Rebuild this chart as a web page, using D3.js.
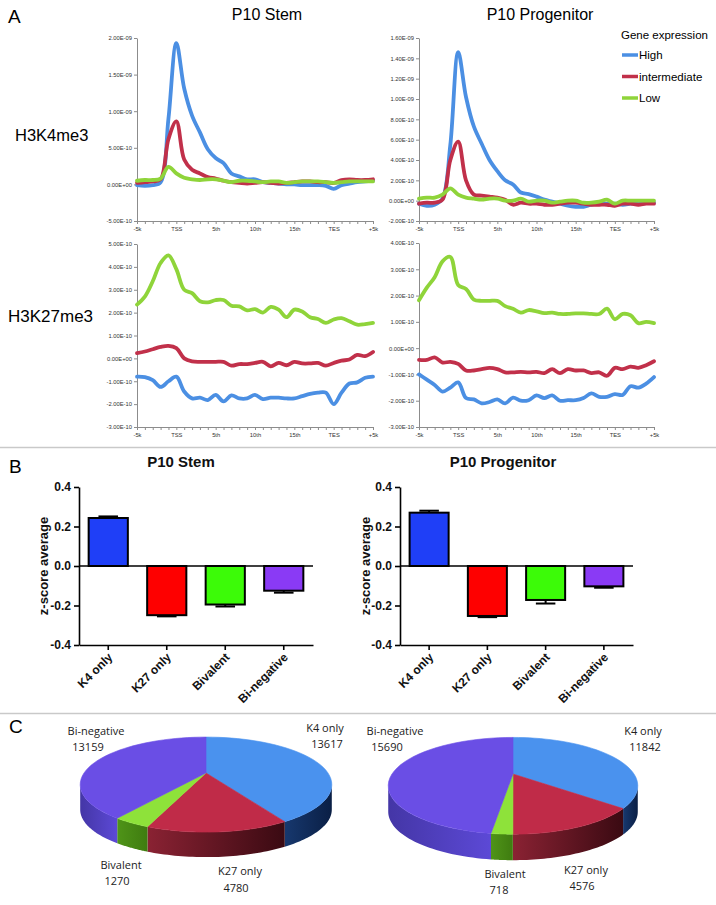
<!DOCTYPE html>
<html lang="en">
<head>
<meta charset="UTF-8">
<title>Histone marks and expression</title>
<script src="https://d3js.org/d3.v7.min.js"></script>
<style>
  body { margin: 0; background: #fff; }
  svg { display: block; font-family: "Liberation Sans", Arial, sans-serif; }
  .axA path, .axA line { stroke: #8c8c8c; stroke-width: 1; }
  .axA text { font-size: 5.8px; fill: #333; font-family: "Liberation Sans", Arial, sans-serif; }
  .axB path, .axB line { stroke: #000; stroke-width: 1.6; }
  .axB text { font-size: 12px; font-weight: bold; fill: #111; font-family: "Liberation Sans", Arial, sans-serif; }
  .pielab { font-family: "Open Sans", sans-serif; font-size: 11px; fill: #222; text-anchor: middle; }
</style>
</head>
<body>
<svg id="fig" width="716" height="905"></svg>
<script>
// ---- panel A data (values in units of 1e-10) ----
const bins = ["-5k","-4k","-3k","-2k","-1k","TSS","1st","2nd","3rd","4th","5th","6th","7th","8th","9th",
  "10th","11th","12th","13th","14th","15th","16th","17th","18th","19th","TES","+1k","+2k","+3k","+4k","+5k"];
const binTicks = ["-5k","TSS","5th","10th","15th","TES","+5k"];
const exprLevels = ["High","intermediate","Low"];
const exprColors = ["#4b8fe3","#c1304a","#8fd43a"];

const stemK4High = [-0.1,-0.2,-0.1,0.3,9,19.3,13.1,9.4,7.1,4.8,3.6,2.9,1.5,1.1,0.7,0.7,0.3,0.2,0.1,0,0,-0.1,-0.1,-0.1,-0.2,-0.6,-0.1,0.1,0.3,0.4,0.5];
const stemK4Mid  = [0.2,0.3,0.4,0.7,6.2,8.6,3.4,2.0,1.5,1.0,0.8,0.5,0.3,0.2,0.1,0.2,0.3,0.2,0.1,0.2,0.3,0.4,0.4,0.3,0.3,0.2,0.6,0.7,0.6,0.6,0.7];
const stemK4Low  = [0.5,0.6,0.6,0.8,2.4,1.5,0.9,0.7,0.6,0.7,0.7,0.5,0.3,0.5,0.5,0.4,0.3,0.4,0.4,0.2,0.3,0.4,0.4,0.4,0.3,0.2,0.3,0.4,0.4,0.4,0.4];

const progK4High = [-0.3,-0.5,-0.4,0.2,5.5,14.6,10.2,7.3,5.6,4.0,2.9,2.0,1.6,0.8,0.65,0.4,0.1,-0.1,-0.3,-0.5,-0.6,-0.6,-0.4,-0.3,-0.3,-0.3,-0.4,-0.3,-0.2,-0.2,-0.2];
const progK4Mid  = [-0.3,-0.2,-0.2,0.1,4.0,5.8,2.0,0.6,0.5,0.4,0.3,0.1,-0.4,-0.2,-0.3,-0.3,-0.4,-0.4,-0.3,-0.2,-0.2,-0.3,-0.4,-0.4,-0.4,-0.5,-0.3,-0.3,-0.4,-0.3,-0.3];
const progK4Low  = [0.2,0.3,0.3,0.6,1.2,0.6,0.3,0.2,0.1,0.2,0.2,0.0,0.0,0.2,-0.1,0.0,0.0,-0.2,-0.1,0.0,0.0,-0.2,-0.2,-0.1,0.1,-0.3,0.0,0.0,0.0,0.0,0.0];

const stemK27High = [-0.8,-0.82,-0.95,-1.25,-1.0,-0.8,-1.45,-1.75,-1.72,-1.82,-1.6,-1.88,-1.62,-1.75,-1.75,-1.6,-1.78,-1.72,-1.72,-1.75,-1.75,-1.65,-1.55,-1.5,-1.5,-2.0,-1.5,-1.1,-1.05,-0.85,-0.8];
const stemK27Mid  = [0.23,0.3,0.4,0.5,0.55,0.45,0.0,-0.13,-0.15,-0.15,-0.15,-0.15,-0.32,-0.25,-0.25,-0.2,-0.15,-0.35,-0.2,-0.3,-0.15,-0.22,-0.22,-0.2,-0.32,-0.2,-0.1,-0.05,0.15,0.1,0.28];
const stemK27Low  = [2.35,2.7,3.37,4.17,4.5,3.9,3.0,2.85,2.5,2.45,2.55,2.55,2.3,2.27,2.1,2.15,2.0,2.25,2.13,1.8,2.13,2.05,1.8,1.72,1.55,1.7,1.76,1.62,1.47,1.5,1.55];

const progK27High = [-1.0,-1.2,-1.4,-1.65,-1.5,-1.3,-1.9,-1.95,-2.1,-2.05,-1.95,-2.1,-1.88,-2.0,-1.98,-1.8,-1.9,-1.8,-2.0,-1.98,-1.98,-1.9,-1.72,-1.85,-1.85,-1.75,-1.78,-1.45,-1.5,-1.35,-1.1];
const progK27Mid  = [-0.45,-0.45,-0.35,-0.55,-0.52,-0.6,-0.85,-0.85,-0.8,-0.75,-0.8,-0.92,-0.92,-0.9,-0.92,-0.9,-0.95,-0.8,-0.95,-0.8,-0.85,-0.85,-0.95,-0.92,-1.05,-0.75,-0.8,-0.7,-0.75,-0.65,-0.5];
const progK27Low  = [1.82,2.3,2.7,3.3,3.47,2.4,2.25,1.85,1.8,1.8,1.8,1.6,1.5,1.35,1.45,1.4,1.33,1.35,1.3,1.3,1.32,1.32,1.3,1.3,1.5,1.1,1.3,1.25,0.95,1.0,0.95];

// ---- panel B data ----
const groups = ["K4 only","K27 only","Bivalent","Bi-negative"];
const groupColors = ["#1f3ff7","#fe0000","#3cfb08","#8a3af5"];
const stemZ = [0.243,-0.249,-0.195,-0.125];
const stemErr = [0.008,0.006,0.01,0.01];
const progZ = [0.27,-0.253,-0.172,-0.103];
const progErr = [0.01,0.006,0.018,0.007];
const zTicks = [-0.4,-0.2,0,0.2,0.4];

// ---- panel C data ----
const stemCounts = [13617,4780,1270,13159];
const progCounts = [11842,4576,718,15690];
const pieTop = ["#4a92ee","#c02b48","#8ee23a","#6a4ee5"];
const pieSide = [["#17386e","#0a1f45"],["#8a2233","#3a0a12"],["#4f9418","#3f7c10"],["#4436a6","#5c49d6"]];

const svg = d3.select("#fig");
svg.append("rect").attr("width",716).attr("height",905).attr("fill","#fff");

function sci(v) {
  const s = (v * 1e-10).toExponential(2);
  const [m, e] = s.split("e");
  const sign = e[0] === "-" ? "-" : "+";
  return m + "E" + sign + e.replace(/[+-]/, "").padStart(2, "0");
}

// ---------- Panel A ----------
const panelsA = [
  {x:[137,373], y:[221,38], dom:[-5,20], ticks:[-5,0,5,10,15,20], series:[stemK4High,stemK4Mid,stemK4Low]},
  {x:[419,654], y:[221,38], dom:[-2,16], ticks:[-2,0,2,4,6,8,10,12,14,16], series:[progK4High,progK4Mid,progK4Low]},
  {x:[137,373], y:[427,244], dom:[-3,5], ticks:[-3,-2,-1,0,1,2,3,4,5], series:[stemK27High,stemK27Mid,stemK27Low]},
  {x:[419,654], y:[427,243], dom:[-3,4], ticks:[-3,-2,-1,0,1,2,3,4], series:[progK27High,progK27Mid,progK27Low]}
];

panelsA.forEach(p => {
  const xs = d3.scalePoint().domain(bins).range(p.x);
  const ys = d3.scaleLinear().domain(p.dom).range(p.y);
  const g = svg.append("g");
  g.append("g").attr("class","axA")
    .attr("transform",`translate(0,${p.y[0]})`)
    .call(d3.axisBottom(xs).tickSize(3).tickSizeOuter(0).tickPadding(3)
      .tickFormat(d => binTicks.includes(d) ? d : ""));
  g.append("g").attr("class","axA")
    .attr("transform",`translate(${p.x[0]},0)`)
    .call(d3.axisLeft(ys).tickValues(p.ticks).tickSize(3).tickSizeOuter(0).tickPadding(2).tickFormat(sci));
  const line = d3.line()
    .x((d, i) => xs(bins[i]))
    .y(d => ys(d))
    .curve(d3.curveCatmullRom.alpha(0.5));
  p.series.forEach((s, k) => {
    g.append("path").attr("d", line(s)).attr("fill","none")
      .attr("stroke", exprColors[k]).attr("stroke-width",3.8)
      .attr("stroke-linejoin","round").attr("stroke-linecap","round");
  });
});

svg.append("text").attr("x",8).attr("y",23).attr("font-size",19).text("A");
svg.append("text").attr("x",267).attr("y",20).attr("font-size",16).attr("text-anchor","middle").text("P10 Stem");
svg.append("text").attr("x",540).attr("y",20).attr("font-size",16).attr("text-anchor","middle").text("P10 Progenitor");
svg.append("text").attr("x",15).attr("y",141).attr("font-size",16.5).text("H3K4me3");
svg.append("text").attr("x",8).attr("y",322).attr("font-size",17).text("H3K27me3");

// legend
svg.append("text").attr("x",621).attr("y",39).attr("font-size",11.5).text("Gene expression");
exprLevels.forEach((name, i) => {
  const y = 55 + i * 21.5;
  svg.append("line").attr("x1",622).attr("x2",638).attr("y1",y).attr("y2",y)
    .attr("stroke",exprColors[i]).attr("stroke-width",3.5);
  svg.append("text").attr("x",639).attr("y",y + 4).attr("font-size",11.5).text(name);
});

// dividers
[447.5, 713.5].forEach(y => {
  svg.append("line").attr("x1",0).attr("x2",716).attr("y1",y).attr("y2",y)
    .attr("stroke","#c9c9c9").attr("stroke-width",1.5);
});

// ---------- Panel B ----------
function barChart(cfg) {
  const xb = d3.scaleBand().domain(groups).range([cfg.x0, cfg.x1]).paddingInner(0.33).paddingOuter(0.165);
  const yb = d3.scaleLinear().domain([-0.4, 0.4]).range([645, 487]);
  const g = svg.append("g");

  g.selectAll("rect.bar").data(cfg.values).enter().append("rect")
    .attr("x", (d, i) => xb(groups[i]))
    .attr("y", d => Math.min(yb(d), yb(0)))
    .attr("width", xb.bandwidth())
    .attr("height", d => Math.abs(yb(d) - yb(0)))
    .attr("fill", (d, i) => groupColors[i])
    .attr("stroke","#000").attr("stroke-width",2);

  cfg.values.forEach((v, i) => {
    const cx = xb(groups[i]) + xb.bandwidth() / 2;
    const tip = v + Math.sign(v) * cfg.errs[i];
    const cw = xb.bandwidth() * 0.25;
    g.append("line").attr("x1",cx).attr("x2",cx).attr("y1",yb(v)).attr("y2",yb(tip)).attr("stroke","#000").attr("stroke-width",2);
    g.append("line").attr("x1",cx - cw).attr("x2",cx + cw).attr("y1",yb(tip)).attr("y2",yb(tip)).attr("stroke","#000").attr("stroke-width",2);
  });

  g.append("line").attr("x1",cfg.x0).attr("x2",cfg.x1).attr("y1",yb(0)).attr("y2",yb(0))
    .attr("stroke","#000").attr("stroke-width",1.6);

  g.append("g").attr("class","axB").attr("transform",`translate(${cfg.x0},0)`)
    .call(d3.axisLeft(yb).tickValues(zTicks).tickSize(5).tickSizeOuter(0).tickPadding(3).tickFormat(d => d.toFixed(1)));
  const xa = g.append("g").attr("class","axB").attr("transform","translate(0,645)")
    .call(d3.axisBottom(xb).tickSize(5).tickSizeOuter(0));
  xa.selectAll("text")
    .attr("x",0).attr("y",0).attr("dy",0)
    .attr("text-anchor","end")
    .attr("transform","translate(5,13) rotate(-45)");

  g.append("text").attr("transform",`translate(${cfg.ylabX},566) rotate(-90)`)
    .attr("text-anchor","middle").attr("font-size",13).attr("font-weight","bold").attr("fill","#111")
    .text("z-score average");
  g.append("text").attr("x",cfg.titleX).attr("y",467).attr("text-anchor","middle")
    .attr("font-size",15).attr("font-weight","bold").attr("fill","#111").text(cfg.title);
}

barChart({x0:79, x1:313, values:stemZ, errs:stemErr, ylabX:47.5, titleX:181, title:"P10 Stem"});
barChart({x0:400, x1:633, values:progZ, errs:progErr, ylabX:369.5, titleX:503, title:"P10 Progenitor"});
svg.append("text").attr("x",9).attr("y",473).attr("font-size",19).text("B");

// ---------- Panel C ----------
const defs = svg.append("defs");
function pie3d(cfg) {
  const K = 0.244;
  const arcs = d3.pie().sort(null).value(d => d)(cfg.counts);
  const proj = (a, drop) => {
    const u = Math.sin(a), v = -Math.cos(a), w = 1 - K * v;
    return [cfg.cx + cfg.rx * u / w, cfg.cy + cfg.b * v / w + drop];
  };
  const arcPts = (s, e, drop) => d3.range(41).map(j => proj(s + (e - s) * j / 40, drop));
  const sil = Math.acos(-K);
  const line = d3.line();
  const g = svg.append("g");

  arcs.forEach((a, i) => {
    const s = Math.max(a.startAngle, sil), e = Math.min(a.endAngle, 2 * Math.PI - sil);
    if (s >= e) return;
    const id = `side-${cfg.name}-${i}`;
    const gr = defs.append("linearGradient").attr("id", id).attr("x1",0).attr("x2",1).attr("y1",0).attr("y2",0);
    gr.append("stop").attr("offset","0%").attr("stop-color", pieSide[i][0]);
    gr.append("stop").attr("offset","100%").attr("stop-color", pieSide[i][1]);
    const pts = arcPts(s, e, 0).concat(arcPts(s, e, cfg.depth).reverse());
    g.append("path").attr("d", line(pts) + "Z").attr("fill", `url(#${id})`);
  });

  arcs.forEach((a, i) => {
    const pts = [[cfg.cx, cfg.cy]].concat(arcPts(a.startAngle, a.endAngle, 0));
    g.append("path").attr("d", line(pts) + "Z").attr("fill", pieTop[i])
      .attr("stroke", pieTop[i]).attr("stroke-width", 0.6);
  });

  cfg.labels.forEach((l, i) => {
    g.append("text").attr("class","pielab").attr("x", l[0]).attr("y", l[1]).text(groups[i]);
    g.append("text").attr("class","pielab").attr("x", l[2]).attr("y", l[3]).text(cfg.counts[i]);
  });
}

pie3d({name:"stem", counts:stemCounts, cx:206, cy:773, rx:122, b:44.7, depth:25,
  labels:[[325,732,327,748],[240,875,236,892],[121,869,117,885],[96,735,88,751]]});
pie3d({name:"prog", counts:progCounts, cx:513, cy:774, rx:121, b:45.5, depth:26,
  labels:[[643,735,645,751],[586,874,582,890],[505,878,499,894],[395,735,387,751]]});
svg.append("text").attr("x",9).attr("y",733).attr("font-size",19).text("C");
</script>
</body>
</html>
